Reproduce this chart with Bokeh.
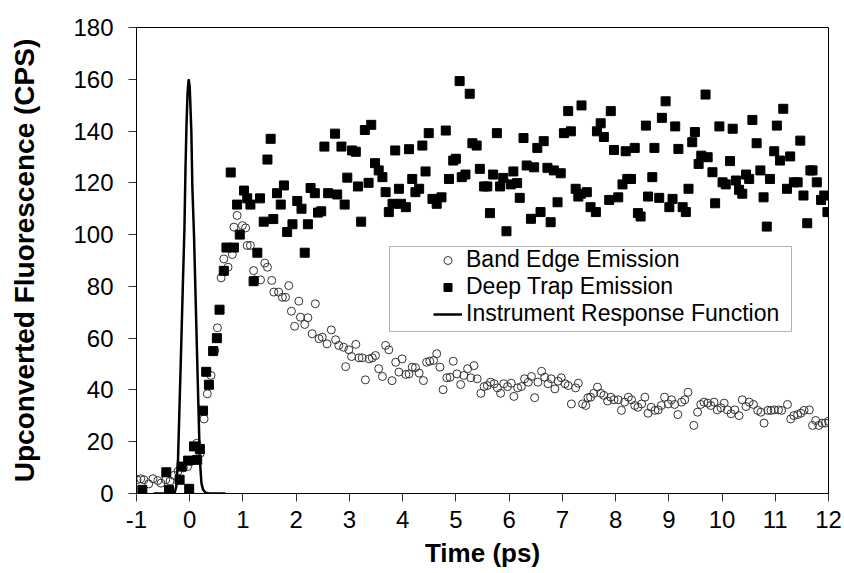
from bokeh.plotting import figure
from bokeh.models import Range1d, FixedTicker, Legend, LegendItem, BoxAnnotation
from bokeh.embed import file_html
from bokeh.resources import INLINE

# ---------------- data ----------------
band_t = [-0.99, -0.92, -0.86, -0.77, -0.69, -0.60, -0.54, -0.45, -0.37, -0.30, -0.22, -0.12, -0.04,
          0.05, 0.13, 0.20, 0.27, 0.33, 0.40, 0.47, 0.52, 0.59, 0.64, 0.72, 0.80, 0.83, 0.89, 0.99,
          1.05, 1.08, 1.14, 1.20, 1.22, 1.33, 1.41, 1.46, 1.54, 1.58, 1.67, 1.74, 1.80, 1.86, 1.91,
          1.97, 2.05, 2.08, 2.16, 2.22, 2.30, 2.36, 2.43, 2.49, 2.58, 2.66, 2.74, 2.80, 2.89, 2.93,
          2.99, 3.04, 3.12, 3.18, 3.24, 3.30, 3.37, 3.43, 3.49, 3.55, 3.62, 3.68, 3.74, 3.80, 3.87,
          3.93, 3.99, 4.06, 4.12, 4.18, 4.24, 4.31, 4.39, 4.45, 4.51, 4.58, 4.64, 4.70, 4.76, 4.83,
          4.89, 4.95, 5.02, 5.09, 5.15, 5.22, 5.28, 5.34, 5.40, 5.47, 5.53, 5.59, 5.65, 5.72, 5.78,
          5.84, 5.90, 5.97, 6.04, 6.09, 6.16, 6.23, 6.29, 6.36, 6.42, 6.48, 6.54, 6.61, 6.67, 6.73,
          6.79, 6.86, 6.92, 6.98, 7.05, 7.11, 7.17, 7.25, 7.30, 7.38, 7.44, 7.48, 7.53, 7.59, 7.66,
          7.72, 7.78, 7.85, 7.91, 7.97, 8.05, 8.11, 8.17, 8.24, 8.30, 8.36, 8.42, 8.49, 8.55, 8.61,
          8.67, 8.74, 8.80, 8.86, 8.92, 8.99, 9.05, 9.11, 9.17, 9.24, 9.30, 9.36, 9.47, 9.54, 9.60,
          9.66, 9.73, 9.79, 9.85, 9.91, 9.98, 10.04, 10.10, 10.17, 10.24, 10.32, 10.38, 10.45, 10.51,
          10.59, 10.67, 10.73, 10.79, 10.86, 10.92, 10.98, 11.06, 11.12, 11.23, 11.29, 11.35, 11.42,
          11.48, 11.54, 11.64, 11.70, 11.76, 11.82, 11.88, 11.94, 12.00]
band_v = [5.3, 5.7, 5.3, 3.7, 5.7, 5.0, 4.0, 5.3, 4.8, 7.0, 8.6, 9.9, 10.4,
          12.7, 19.4, 15.6, 28.8, 38.5, 45.6, 55.2, 64.0, 83.3, 90.6, 87.4, 92.3, 102.9, 107.4, 103.5,
          102.6, 95.8, 95.8, 86.1, 82.5, 82.5, 89.0, 87.4, 82.3, 77.8, 77.8, 75.8, 75.8, 80.3, 70.4,
          64.6, 74.3, 68.1, 65.3, 67.9, 61.7, 73.3, 59.8, 60.4, 57.8, 63.2, 59.4, 57.2, 56.5, 49.0,
          55.5, 52.9, 57.6, 52.4, 52.4, 43.9, 52.0, 52.4, 53.3, 48.2, 45.2, 57.2, 55.5, 43.6, 50.7,
          46.9, 52.0, 46.0, 46.2, 48.8, 48.6, 46.5, 43.6, 50.7, 51.1, 51.4, 54.0, 48.8, 40.1, 44.7,
          44.9, 51.1, 46.2, 42.1, 45.6, 48.2, 44.7, 49.4, 44.3, 38.7, 41.3, 41.7, 43.0, 42.4, 40.8,
          38.7, 42.4, 41.3, 42.6, 37.5, 40.8, 41.3, 44.3, 43.0, 45.2, 37.0, 43.0, 47.2, 44.9, 42.4,
          44.3, 40.4, 43.4, 44.7, 42.4, 41.7, 34.6, 40.8, 42.6, 34.6, 34.0, 37.0, 37.2, 38.7, 41.1,
          38.7, 37.9, 35.7, 37.2, 36.2, 36.2, 32.1, 35.3, 37.2, 36.2, 34.0, 33.3, 34.6, 37.2, 31.0,
          33.3, 32.1, 32.3, 34.0, 37.2, 34.6, 36.2, 34.4, 30.5, 35.3, 36.2, 39.1, 26.3, 31.4, 34.4,
          35.3, 34.9, 34.0, 35.3, 32.3, 33.1, 34.9, 32.3, 30.8, 32.3, 30.1, 36.2, 33.6, 35.3,
          34.4, 32.1, 31.4, 27.2, 32.1, 32.1, 32.3, 32.3, 32.1, 34.4, 28.8, 30.1, 30.5,
          31.0, 32.1, 32.3, 26.3, 28.2, 26.3, 27.2, 27.2, 27.9]

trap_t = [-0.89, -0.44, -0.39, -0.19, -0.15, -0.03, -0.01, 0.08, 0.14, 0.19, 0.25, 0.31, 0.36, 0.44,
          0.51, 0.56, 0.64, 0.69, 0.77, 0.83, 0.89, 0.94, 1.02, 1.08, 1.14, 1.20, 1.27, 1.32, 1.39,
          1.46, 1.52, 1.57, 1.64, 1.71, 1.77, 1.83, 1.93, 2.02, 2.10, 2.16, 2.22, 2.27, 2.35, 2.41,
          2.47, 2.53, 2.60, 2.73, 2.77, 2.85, 2.91, 2.96, 3.05, 3.12, 3.16, 3.22, 3.29, 3.36, 3.41,
          3.48, 3.55, 3.62, 3.68, 3.74, 3.81, 3.86, 3.93, 3.97, 4.06, 4.12, 4.18, 4.24, 4.31, 4.37,
          4.43, 4.49, 4.56, 4.64, 4.73, 4.81, 4.87, 4.95, 5.00, 5.07, 5.11, 5.18, 5.26, 5.31, 5.39,
          5.45, 5.53, 5.59, 5.64, 5.70, 5.77, 5.83, 5.89, 5.95, 6.03, 6.08, 6.15, 6.20, 6.27, 6.33,
          6.41, 6.47, 6.53, 6.59, 6.65, 6.72, 6.78, 6.84, 6.91, 6.97, 7.03, 7.11, 7.16, 7.25, 7.30,
          7.35, 7.36, 7.46, 7.53, 7.63, 7.65, 7.72, 7.78, 7.88, 7.91, 7.97, 8.05, 8.13, 8.19, 8.22,
          8.29, 8.36, 8.42, 8.47, 8.57, 8.61, 8.69, 8.73, 8.82, 8.87, 8.94, 9.01, 9.07, 9.12, 9.18,
          9.26, 9.32, 9.37, 9.44, 9.49, 9.56, 9.61, 9.69, 9.73, 9.82, 9.87, 9.95, 10.01, 10.07,
          10.15, 10.20, 10.26, 10.32, 10.38, 10.45, 10.51, 10.57, 10.65, 10.72, 10.78, 10.84, 10.90,
          10.98, 11.03, 11.09, 11.15, 11.22, 11.28, 11.35, 11.42, 11.47, 11.53, 11.60, 11.66, 11.70,
          11.78, 11.86, 11.92, 11.98]
trap_v = [1.4, 8.2, 1.4, 5.3, 10.4, 12.7, 1.8, 18.2, 13.0, 17.2, 32.0, 47.0, 42.0, 55.0,
          60.0, 71.0, 86.0, 95.0, 124.0, 95.0, 111.6, 100.0, 117.0, 114.0, 111.6, 82.0, 93.0, 114.0, 105.0,
          129.0, 137.0, 106.0, 116.0, 111.6, 119.0, 101.0, 104.0, 113.0, 110.0, 93.0, 104.0, 118.0, 116.0, 108.5,
          109.0, 134.0, 116.0, 139.0, 115.5, 134.0, 111.6, 122.0, 132.5, 132.0, 118.6, 105.0, 140.4, 120.0, 142.4,
          127.6, 124.8, 122.2, 116.4, 108.7, 111.9, 132.5, 117.7, 111.9, 110.6, 133.0, 121.5, 116.4, 117.7, 134.4,
          124.4, 139.2, 113.8, 111.9, 114.4, 140.2, 121.5, 128.6, 129.3, 159.3, 122.2, 123.2, 154.4, 135.3, 134.4,
          125.4, 118.6, 118.6, 108.3, 123.2, 139.2, 118.6, 121.9, 101.3, 119.4, 124.4, 119.9, 114.2, 137.3, 126.7,
          106.1, 126.0, 133.5, 108.7, 136.1, 125.8, 104.8, 124.8, 112.5, 123.7, 139.2, 147.7, 139.9, 117.7, 114.7,
          115.8, 149.9, 116.4, 110.6, 108.7, 139.9, 143.0, 137.7, 113.4, 147.7, 132.7, 114.4, 119.4, 132.2, 121.5,
          121.5, 133.5, 108.3, 107.0, 142.1, 114.7, 122.2, 133.5, 114.2, 145.1, 151.5, 110.6, 113.8, 141.8, 133.1,
          110.6, 108.7, 117.7, 135.7, 139.6, 127.3, 130.5, 154.1, 129.9, 124.1, 112.1, 141.8, 120.2, 119.4,
          128.4, 140.9, 120.9, 117.3, 115.8, 123.2, 121.5, 144.3, 135.3, 124.8, 114.4, 103.1, 121.5,
          132.2, 142.1, 128.6, 148.6, 117.7, 130.2, 120.2, 120.2, 136.3, 115.1, 104.4, 124.8, 124.8,
          120.2, 113.4, 115.1, 108.7]

irf_t = [-0.68, -0.35, -0.28, -0.25, -0.22, -0.19, -0.16, -0.13, -0.10, -0.08, -0.06, -0.04, -0.02,
         0.00, 0.03, 0.05, 0.08, 0.10, 0.13, 0.16, 0.19, 0.22, 0.25, 0.30, 0.36, 0.67]
irf_v = [0, 0, 0.5, 3, 13, 35, 57, 80, 102, 125, 143, 155, 160,
         157, 140, 118, 100, 84, 60, 36, 13, 4, 1.5, 0.3, 0, 0]

x_ticks = [-1, 0, 1, 2, 3, 4, 5, 6, 7, 8, 9, 10, 11, 12]
x_tick_labels = ["-1", "0", "1", "2", "3", "4", "5", "6", "7", "8", "9", "10", "11", "12"]
y_ticks = [0, 20, 40, 60, 80, 100, 120, 140, 160, 180]
y_tick_labels = ["0", "20", "40", "60", "80", "100", "120", "140", "160", "180"]

labels = ["Band Edge Emission", "Deep Trap Emission", "Instrument Response Function"]
x_title = "Time (ps)"
y_title = "Upconverted Fluorescence (CPS)"

FONT = "Liberation Sans"

# ---------------- figure ----------------
p = figure(width=844, height=573, output_backend="svg", toolbar_location=None,
           x_range=Range1d(-1, 12), y_range=Range1d(0, 180),
           min_border_left=136, min_border_right=16, min_border_top=27, min_border_bottom=80)
p.background_fill_color = "white"
p.border_fill_color = "white"
p.outline_line_color = "black"
p.outline_line_width = 1
p.xgrid.visible = False
p.ygrid.visible = False

r_band = p.scatter(band_t, band_v, marker="circle", size=8, fill_alpha=0,
                   line_color="#333333", line_width=1)
r_trap = p.scatter(trap_t, trap_v, marker="square", size=9, fill_color="black",
                   line_color="black")
r_irf = p.line(irf_t, irf_v, line_color="black", line_width=2.5)

for ax, ticks, tl in ((p.xaxis[0], x_ticks, x_tick_labels), (p.yaxis[0], y_ticks, y_tick_labels)):
    ax.ticker = FixedTicker(ticks=ticks)
    ax.major_label_overrides = {t: s for t, s in zip(ticks, tl)}
    ax.major_tick_in = 0
    ax.major_tick_out = 8
    ax.minor_tick_out = 0
    ax.minor_tick_in = 0
    ax.axis_line_color = "black"
    ax.major_tick_line_color = "#333333"
    ax.major_label_text_font = FONT
    ax.major_label_text_font_size = "24px"
    ax.major_label_text_color = "black"
    ax.axis_label_text_font = FONT
    ax.axis_label_text_font_style = "bold"
    ax.axis_label_text_color = "black"

p.xaxis.axis_label = x_title
p.xaxis.axis_label_text_font_size = "26px"
p.xaxis.major_label_standoff = 9
p.xaxis.axis_label_standoff = 7

p.yaxis.axis_label = y_title
p.yaxis.axis_label_text_font_size = "28px"
p.yaxis.major_label_standoff = 15
p.yaxis.axis_label_standoff = 30

# legend frame
frame = BoxAnnotation(left=3.753, right=11.305, bottom=62.6, top=95.4,
                      fill_alpha=0, line_color="black", line_width=1)
p.add_layout(frame)

legend = Legend(items=[LegendItem(label=labels[0], renderers=[r_band]),
                       LegendItem(label=labels[1], renderers=[r_trap]),
                       LegendItem(label=labels[2], renderers=[r_irf])],
                location=(292, 161), padding=5, spacing=0, label_height=24,
                glyph_width=29, glyph_height=20, label_standoff=4,
                label_text_font=FONT, label_text_font_size="23px",
                label_text_color="black",
                border_line_alpha=0, background_fill_alpha=0)
p.add_layout(legend)

open("out.html", "w").write(file_html(p, INLINE))
